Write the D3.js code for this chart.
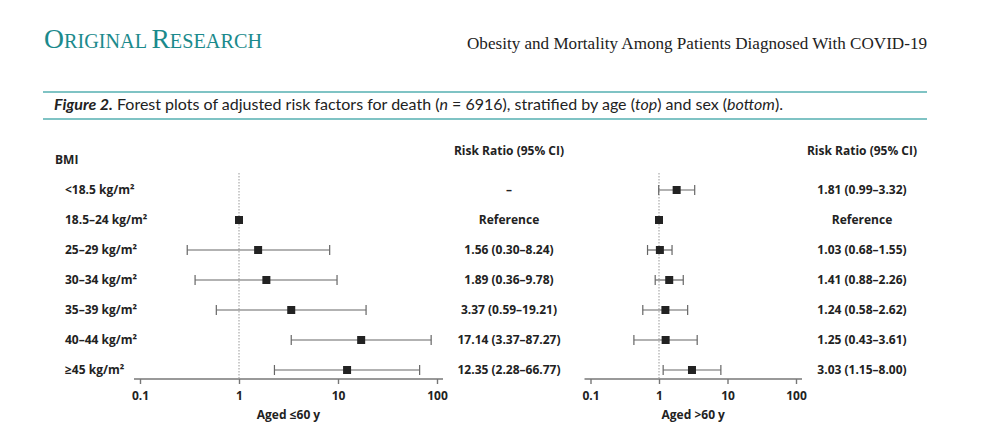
<!DOCTYPE html>
<html><head><meta charset="utf-8">
<script src="https://cdn.jsdelivr.net/npm/d3@7"></script>
<style>body{margin:0;background:#fff}svg{display:block}</style>
</head><body>
<svg id="c" width="1000" height="438"></svg>
<script>
const categories = ["<18.5 kg/m²","18.5–24 kg/m²","25–29 kg/m²","30–34 kg/m²","35–39 kg/m²","40–44 kg/m²","≥45 kg/m²"];
// age <=60
const young_rr = [null, 1, 1.56, 1.89, 3.37, 17.14, 12.35];
const young_lo = [null, null, 0.30, 0.36, 0.59, 3.37, 2.28];
const young_hi = [null, null, 8.24, 9.78, 19.21, 87.27, 66.77];
const young_txt = ["–","Reference","1.56 (0.30–8.24)","1.89 (0.36–9.78)","3.37 (0.59–19.21)","17.14 (3.37–87.27)","12.35 (2.28–66.77)"];
// age >60
const old_rr = [1.81, 1, 1.03, 1.41, 1.24, 1.25, 3.03];
const old_lo = [0.99, null, 0.68, 0.88, 0.58, 0.43, 1.15];
const old_hi = [3.32, null, 1.55, 2.26, 2.62, 3.61, 8.00];
const old_txt = ["1.81 (0.99–3.32)","Reference","1.03 (0.68–1.55)","1.41 (0.88–2.26)","1.24 (0.58–2.62)","1.25 (0.43–3.61)","3.03 (1.15–8.00)"];
const tickVals = [0.1, 1, 10, 100];
const tickLabels = ["0.1","1","10","100"];

const svg = d3.select("#c");
const teal = "#1b8a8c";
const sans = "'Open Sans', 'Noto Sans', sans-serif";

// Header
const t = svg.append("text").attr("x",44).attr("y",48).attr("fill",teal)
  .attr("font-family","'Liberation Serif', serif").attr("textLength",218).attr("lengthAdjust","spacingAndGlyphs");
t.append("tspan").attr("font-size",28).text("O");
t.append("tspan").attr("font-size",20.5).text("RIGINAL ");
t.append("tspan").attr("font-size",28).text("R");
t.append("tspan").attr("font-size",20.5).text("ESEARCH");
svg.append("text").attr("x",927).attr("y",49).attr("text-anchor","end").attr("fill","#222")
  .attr("font-family","'Liberation Serif', serif").attr("font-size",17.5)
  .attr("textLength",460).attr("lengthAdjust","spacingAndGlyphs")
  .text("Obesity and Mortality Among Patients Diagnosed With COVID-19");

svg.append("line").attr("x1",43).attr("x2",927).attr("y1",92).attr("y2",92).attr("stroke","#7fc3c4").attr("stroke-width",2);
svg.append("line").attr("x1",43).attr("x2",927).attr("y1",119).attr("y2",119).attr("stroke","#7fc3c4").attr("stroke-width",2);
const cap = svg.append("text").attr("x",54).attr("y",110).attr("fill","#222")
  .attr("font-family","Lato, 'Open Sans', sans-serif").attr("font-size",16);
cap.append("tspan").attr("font-weight","bold").attr("font-style","italic").text("Figure 2.");
cap.append("tspan").text(" Forest plots of adjusted risk factors for death (");
cap.append("tspan").attr("font-style","italic").text("n");
cap.append("tspan").text(" = 6916), stratified by age (");
cap.append("tspan").attr("font-style","italic").text("top");
cap.append("tspan").text(") and sex (");
cap.append("tspan").attr("font-style","italic").text("bottom");
cap.append("tspan").text(").");

// Rows
const y = d3.scalePoint().domain(categories).range([190, 370]);

svg.append("text").attr("x",55).attr("y",164).attr("font-family",sans).attr("font-size",12)
  .attr("font-weight","bold").attr("fill","#222").text("BMI");
svg.selectAll("text.cat").data(categories).join("text").attr("class","cat")
  .attr("x",65).attr("y",d=>y(d)+4).attr("font-family",sans).attr("font-size",12)
  .attr("font-weight","bold").attr("fill","#222").text(d=>d);

function panel(x0, x1, rr, lo, hi, txt, colX, label){
  const x = d3.scaleLog().domain([0.1,100]).range([x0,x1]);
  const g = svg.append("g");
  g.append("line").attr("x1",x(1)).attr("x2",x(1)).attr("y1",173).attr("y2",378)
    .attr("stroke","#999").attr("stroke-width",1).attr("stroke-dasharray","1.5,1.5");
  const ax = d3.axisBottom(x).tickValues(tickVals).tickFormat((d,i)=>tickLabels[i]).tickSizeOuter(0).tickSize(5);
  const ag = g.append("g").attr("transform","translate(0,379)").call(ax);
  ag.select(".domain").attr("stroke","#777").attr("stroke-width",1.6)
    .attr("d",`M${x0-6},0H${x1+6}`);
  ag.selectAll(".tick line").attr("stroke","#777").attr("stroke-width",1.4);
  ag.selectAll(".tick text").attr("font-family",sans).attr("font-size",12).attr("font-weight","bold")
    .attr("fill","#222").attr("dy","1.05em");
  g.append("text").attr("x",(x0+x1)/2).attr("y",419).attr("text-anchor","middle").attr("font-family",sans)
    .attr("font-size",12).attr("font-weight","bold").attr("fill","#222").text(label);
  categories.forEach((c,i)=>{
    const yy = y(c);
    if(lo[i]!=null){
      g.append("line").attr("x1",x(lo[i])).attr("x2",x(hi[i])).attr("y1",yy).attr("y2",yy).attr("stroke","#666").attr("stroke-width",1.2);
      [lo[i],hi[i]].forEach(v=>g.append("line").attr("x1",x(v)).attr("x2",x(v)).attr("y1",yy-5).attr("y2",yy+5).attr("stroke","#666").attr("stroke-width",1.2));
    }
    if(rr[i]!=null){
      g.append("rect").attr("x",x(rr[i])-4).attr("y",yy-4).attr("width",8).attr("height",8).attr("fill","#222");
    }
    g.append("text").attr("x",colX).attr("y",yy+4).attr("text-anchor","middle").attr("font-family",sans)
      .attr("font-size",12).attr("font-weight","bold").attr("fill","#222").text(txt[i]);
  });
  g.append("text").attr("x",colX).attr("y",155).attr("text-anchor","middle").attr("font-family",sans)
    .attr("font-size",12).attr("font-weight","bold").attr("fill","#222").text("Risk Ratio (95% CI)");
}
panel(140, 437, young_rr, young_lo, young_hi, young_txt, 509, "Aged ≤60 y");
panel(590.5, 796, old_rr, old_lo, old_hi, old_txt, 862, "Aged >60 y");
</script>
</body></html>
